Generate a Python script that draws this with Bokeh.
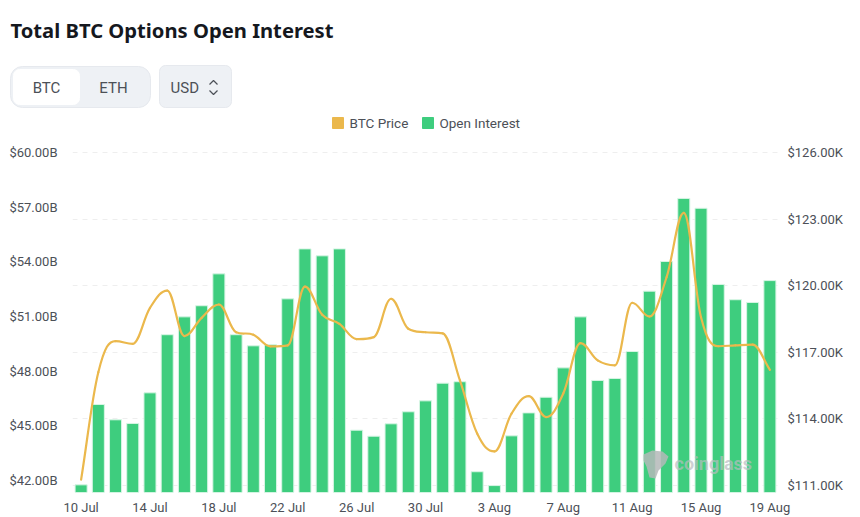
from bokeh.embed import file_html
from bokeh.layouts import column
from bokeh.models import FixedTicker, Grid, Label, LinearAxis, PolyAnnotation, Range1d
from bokeh.plotting import figure
from bokeh.resources import INLINE

# One label per day, 10 Jul to 19 Aug
days = ["%d Jul" % d for d in range(10, 32)] + ["%d Aug" % d for d in range(1, 20)]

# Open interest, $B
open_interest = [41.76, 46.17, 45.33, 45.13, 46.81, 50.00, 50.98, 51.59, 53.34, 50.00, 49.39,
                 49.45, 51.97, 54.71, 54.33, 54.71, 44.76, 44.43, 45.11, 45.77, 46.37, 47.34,
                 47.42, 42.48, 41.72, 44.45, 45.71, 46.57, 48.18, 50.98, 47.49, 47.60, 49.08,
                 52.39, 54.02, 57.48, 56.94, 52.76, 51.92, 51.77, 52.97]

# BTC price, $K
btc_price = [111.26, 116.10, 117.50, 117.38, 119.00, 119.78, 117.73, 118.55, 119.15, 117.90, 117.79,
             117.26, 117.31, 119.96, 118.69, 118.28, 117.59, 117.68, 119.41, 118.06, 117.90, 117.85,
             115.73, 113.34, 112.53, 114.24, 115.02, 114.08, 115.14, 117.41, 116.63, 116.41, 119.23,
             118.61, 120.38, 123.28, 118.58, 117.27, 117.31, 117.34, 116.21]

oi_ticks = [42, 45, 48, 51, 54, 57, 60]
price_ticks = [111, 114, 117, 120, 123, 126]
day_ticks = list(range(0, len(days), 4))

GREEN = "#3ecd7e"
ORANGE = "#ebb84c"
TEXT = "#4c5057"
HEAD = 140

x = list(range(len(days)))

# Header: title, buttons and legend, drawn in page pixels
head = figure(width=852, height=HEAD, output_backend="svg", toolbar_location=None,
              x_range=Range1d(0, 852), y_range=Range1d(HEAD, 0), min_border=0,
              outline_line_color=None, x_axis_location=None, y_axis_location=None)
head.grid.visible = False
head.frame_align = False


def box(left, right_, top, bottom, color, radius, line="#e6e9ee"):
    head.quad(left=left, right=right_, top=top, bottom=bottom, fill_color=color,
              line_color=line, line_width=1, border_radius=radius)


def text(x_, y_, s, size, color=TEXT, font="Roboto", style="normal", align="left"):
    head.add_layout(Label(x=x_, y=y_, text=s, text_font=font, text_font_size=size, text_color=color,
                          text_font_style=style, text_align=align, text_baseline="middle"))


text(10, 29, "Total BTC Options Open Interest", "20.2px", "#15181e", "Noto Sans", "bold")
box(10, 150, 66, 107, "#eef1f5", 12)
box(13, 79, 69, 104, "#ffffff", 6, "#ffffff")
box(159, 231, 65, 107, "#eef1f5", 6)
text(46, 87, "BTC", "15px", align="center")
text(113, 87, "ETH", "15px", align="center")
text(170, 87, "USD", "15px")

# up / down chevrons of the USD select
head.line([209, 213, 217], [84, 80, 84], line_color=TEXT, line_width=1.2)
head.line([209, 213, 217], [90, 94, 90], line_color=TEXT, line_width=1.2)

# legend swatches and names
box(332, 343, 117, 128, ORANGE, 0, ORANGE)
text(349, 122, "BTC Price", "13.5px")
box(422, 433, 117, 128, GREEN, 0, GREEN)
text(439, 122, "Open Interest", "13.5px")

# Chart
p = figure(width=852, height=372, frame_width=706, frame_height=342, output_backend="svg",
           toolbar_location=None, x_range=Range1d(-0.5, 40.5), y_range=Range1d(41.34, 60.11),
           min_border_left=72, min_border_right=74, min_border_top=10, min_border_bottom=20,
           outline_line_color=None, background_fill_color="white")
p.frame_align = False
p.extra_y_ranges = {"price": Range1d(110.68, 126.09)}

p.xaxis.ticker = FixedTicker(ticks=day_ticks)
p.xaxis.major_label_overrides = {i: days[i] for i in day_ticks}
p.yaxis.ticker = FixedTicker(ticks=oi_ticks)
p.yaxis.major_label_overrides = {v: "$%.2fB" % v for v in oi_ticks}

right = LinearAxis(y_range_name="price", ticker=FixedTicker(ticks=price_ticks),
                   major_label_overrides={v: "$%.2fK" % v for v in price_ticks})
p.add_layout(right, "right")

for ax in [p.xaxis[0], p.yaxis[0], right]:
    ax.axis_line_color = None
    ax.major_tick_line_color = None
    ax.minor_tick_line_color = None
    ax.major_label_text_font = "Roboto"
    ax.major_label_text_font_size = "13px"
    ax.major_label_text_color = TEXT
p.xaxis.major_label_standoff = 1
p.yaxis[0].major_label_standoff = 9
right.major_label_standoff = 3

p.grid.visible = False
p.add_layout(Grid(dimension=1, ticker=FixedTicker(ticks=price_ticks), y_range_name="price",
                  grid_line_color="#eeeeee", grid_line_dash=[5, 5]))

p.vbar(x=x, top=open_interest, bottom=41.34, width=0.7, fill_color=GREEN,
       line_color="#d8f5e5", line_width=1)

# smooth price line, one bezier per day, tangents limited so it stays monotone between values
n = len(btc_price)
steps = [btc_price[i + 1] - btc_price[i] for i in range(n - 1)]
slopes = [steps[0]]
for i in range(1, n - 1):
    d0, d1 = steps[i - 1], steps[i]
    if d0 * d1 <= 0:
        slopes.append(0)
    else:
        m = min(3 * min(abs(d0), abs(d1)), abs(d0 + d1) / 2)
        slopes.append(m if d0 > 0 else -m)
slopes.append(steps[-1])
k = 0.38
p.bezier(x0=x[:-1], y0=btc_price[:-1], x1=x[1:], y1=btc_price[1:],
         cx0=[v + k for v in x[:-1]], cy0=[btc_price[i] + slopes[i] * k for i in range(n - 1)],
         cx1=[v - k for v in x[1:]], cy1=[btc_price[i + 1] - slopes[i + 1] * k for i in range(n - 1)],
         line_color=ORANGE, line_width=2.2, line_cap="round", y_range_name="price")

# watermark, offsets are from the frame's bottom left corner
p.add_layout(PolyAnnotation(xs=[571, 580, 590, 596, 593, 586, 583, 577, 574, 571],
                            ys=[38, 42, 41, 36, 29, 22, 14, 15, 26, 32],
                            xs_units="screen", ys_units="screen", fill_color="#b4b8b8", fill_alpha=0.85,
                            line_alpha=0))
p.add_layout(Label(x=602, y=29, x_units="screen", y_units="screen", text="coinglass", text_font="Roboto",
                   text_font_size="18px", text_font_style="bold", text_color="#b9bcc0", text_alpha=0.7,
                   text_baseline="middle"))

open("out.html", "w").write(file_html(column(head, p, spacing=0), INLINE))
